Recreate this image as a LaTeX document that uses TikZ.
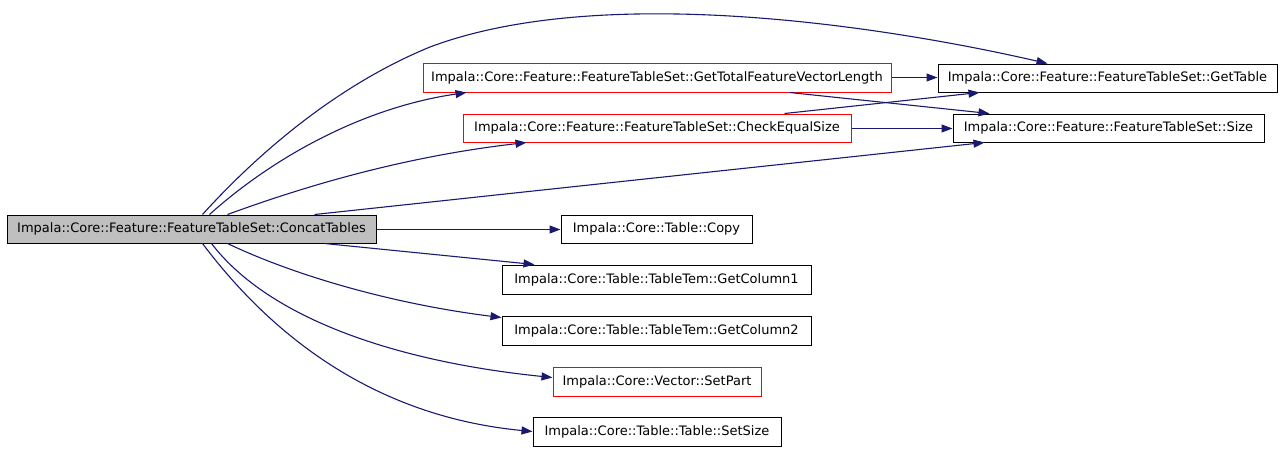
\documentclass[tikz,border=0pt]{standalone}
\usepackage{fontspec}
\setmainfont{DejaVu Sans}
\usetikzlibrary{arrows.meta}
\definecolor{edgecol}{HTML}{191970}
\definecolor{rootfill}{HTML}{BFBFBF}
\tikzset{
  fn/.style={draw=black, line width=1pt, minimum height=28pt, inner sep=0pt, font=\fontsize{13}{15}\selectfont, text=black},
  fnred/.style={fn, draw=red},
  fnroot/.style={fn, fill=rootfill},
  call/.style={draw=edgecol, line width=1.1pt, -{Triangle[length=11pt,width=8pt]}},
}
\begin{document}
\begin{tikzpicture}[x=1pt,y=-1pt]
\useasboundingbox (0,0) rectangle (1283,451);
\node[fnroot, minimum width=369pt] (root) at (191.5,229) {Impala::Core::Feature::FeatureTableSet::ConcatTables};
\node[fnred, minimum width=468pt, minimum height=29pt] (gtf) at (657,77.5) {Impala::Core::Feature::FeatureTableSet::GetTotalFeatureVectorLength};
\node[fnred, minimum width=388pt] (ces) at (657,128) {Impala::Core::Feature::FeatureTableSet::CheckEqualSize};
\node[fn, minimum width=339pt] (gettable) at (1107.5,78) {Impala::Core::Feature::FeatureTableSet::GetTable};
\node[fn, minimum width=311pt] (size) at (1108.5,128) {Impala::Core::Feature::FeatureTableSet::Size};
\node[fn, minimum width=191pt] (copy) at (656.5,229) {Impala::Core::Table::Copy};
\node[fn, minimum width=309pt, minimum height=29pt] (col1) at (656.5,279.5) {Impala::Core::Table::TableTem::GetColumn1};
\node[fn, minimum width=309pt, minimum height=29pt] (col2) at (656.5,330.5) {Impala::Core::Table::TableTem::GetColumn2};
\node[fnred, minimum width=208pt, minimum height=29pt] (setpart) at (657,381.5) {Impala::Core::Vector::SetPart};
\node[fn, minimum width=248pt, minimum height=29pt] (setsize) at (657,431.5) {Impala::Core::Table::Table::SetSize};

\draw[call] ([xshift=196pt]root.north west) .. controls (250,162) and (330,88) .. (430,47)
  .. controls (600,-17) and (880,25) .. ([xshift=110pt]gettable.north west);
\draw[call] ([xshift=203pt]root.north west) .. controls (270,160) and (360,108) .. ([xshift=44pt]gtf.south west);
\draw[call] ([xshift=221pt]root.north west) .. controls (300,188) and (400,157) .. ([xshift=64pt]ces.south west);
\draw[call] ([xshift=308pt]root.north west) -- ([xshift=32pt]size.south west);
\draw[call] ([yshift=-0.5pt]root.east) -- ([yshift=-0.5pt]root.east -| copy.west);
\draw[call] ([xshift=318pt]root.south west) -- ([xshift=33pt]col1.north west);
\draw[call] ([xshift=221pt]root.south west) .. controls (300,278) and (400,305) .. ([yshift=-2pt]col2.north west);
\draw[call] ([xshift=205pt]root.south west) .. controls (270,320) and (400,362) .. ([yshift=4pt]setpart.west);
\draw[call] ([xshift=196pt]root.south west) .. controls (260,320) and (360,415) .. (setsize.west);
\draw[call] (gtf.east) -- (gtf.east -| gettable.west);
\draw[call] ([xshift=367pt]gtf.south west) -- ([xshift=37pt]size.north west);
\draw[call] ([xshift=322pt]ces.north west) -- ([xshift=42pt]gettable.south west);
\draw[call] ([yshift=-0.5pt]ces.east) -- ([yshift=-0.5pt]ces.east -| size.west);
\end{tikzpicture}
\end{document}
